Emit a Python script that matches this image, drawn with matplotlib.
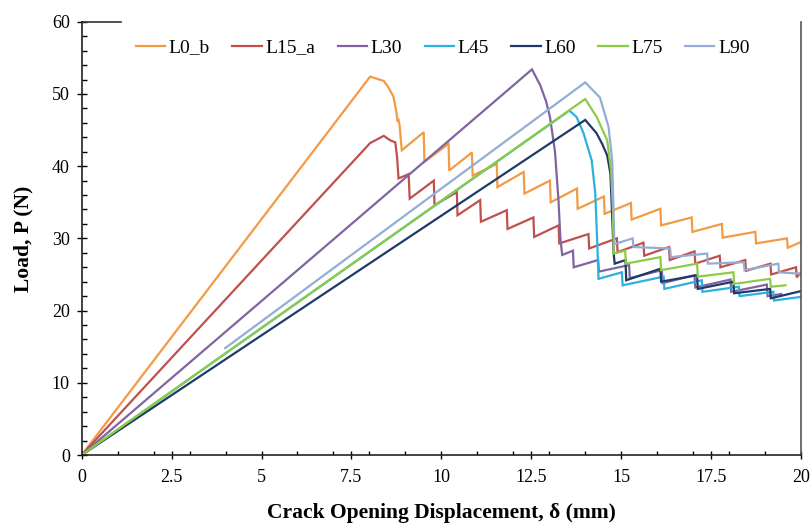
import matplotlib
matplotlib.use("Agg")
import matplotlib.pyplot as plt
from matplotlib.ticker import MultipleLocator

# ---- data ----
labels = ["L0_b", "L15_a", "L30", "L45", "L60", "L75", "L90"]
colors = ["#F39A45", "#C0504D", "#8064A2", "#2CB0E0", "#1F3A68", "#8CCB45", "#93ADD6"]

L0_b_x = [0, 8.02, 8.40, 8.53, 8.67, 8.75, 8.78, 8.81, 8.84, 8.90, 9.51, 9.53, 10.20, 10.22,
          10.85, 10.87, 11.54, 11.56, 12.29, 12.31, 13.02, 13.04, 13.77, 13.79, 14.52, 14.54,
          15.27, 15.29, 16.09, 16.11, 16.96, 16.98, 17.80, 17.82, 18.73, 18.75, 19.61, 19.63, 20.0]
L0_b_y = [0, 52.4, 51.8, 50.9, 49.6, 47.5, 46.3, 46.4, 45.6, 42.2, 44.7, 40.6, 43.1, 39.4,
          41.9, 38.7, 40.3, 37.1, 39.2, 36.2, 38.0, 35.0, 36.9, 34.1, 35.8, 33.4,
          34.9, 32.6, 34.1, 31.8, 32.9, 30.9, 32.0, 30.1, 30.9, 29.3, 30.0, 28.7, 29.5]

L15_a_x = [0, 8.02, 8.40, 8.57, 8.72, 8.77, 8.81, 9.09, 9.12, 9.79, 9.81, 10.43, 10.45, 11.08,
           11.10, 11.82, 11.84, 12.56, 12.58, 13.26, 13.28, 14.09, 14.11, 14.88, 14.90, 15.62,
           15.64, 16.33, 16.35, 17.04, 17.06, 17.74, 17.76, 18.45, 18.47, 19.15, 19.17, 19.86,
           19.88, 20.0]
L15_a_y = [0, 43.2, 44.2, 43.6, 43.3, 41.2, 38.3, 38.9, 35.5, 38.0, 34.6, 36.4, 33.2, 35.3,
           32.3, 33.9, 31.3, 32.9, 30.2, 31.8, 29.3, 30.6, 28.6, 30.0, 28.1, 29.4,
           27.6, 28.8, 27.0, 28.2, 26.5, 27.6, 26.0, 27.0, 25.5, 26.5, 25.0, 26.0,
           24.6, 25.3]

L30_x = [0, 12.52, 12.75, 12.91, 13.02, 13.16, 13.26, 13.31, 13.36, 13.66, 13.68, 14.36, 14.38,
         15.22, 15.24, 16.13, 16.15, 17.04, 17.06, 18.04, 18.06, 19.05, 19.07, 19.45]
L30_y = [0, 53.4, 51.2, 49.0, 46.8, 42.0, 35.0, 30.0, 27.7, 28.3, 26.0, 27.0, 25.4,
         26.3, 24.5, 25.6, 23.8, 24.9, 23.2, 24.3, 22.6, 23.6, 22.0, 22.3]

L45_x = [0, 13.56, 13.76, 13.95, 14.18, 14.28, 14.33, 14.37, 15.02, 15.04, 16.18, 16.20, 17.24,
         17.26, 18.27, 18.29, 19.23, 19.25, 20.0]
L45_y = [0, 47.7, 46.8, 44.6, 40.8, 36.2, 30.0, 24.4, 25.3, 23.5, 24.7, 23.0, 24.2,
         22.6, 23.3, 22.0, 22.6, 21.4, 21.9]

L60_x = [0, 14.0, 14.31, 14.47, 14.61, 14.70, 14.75, 14.79, 14.82, 15.12, 15.14, 16.09, 16.11,
         17.11, 17.13, 18.12, 18.14, 19.14, 19.16, 20.0]
L60_y = [0, 46.4, 44.6, 43.1, 41.5, 39.0, 33.0, 27.9, 26.5, 27.0, 24.2, 25.8, 24.0,
         24.9, 23.0, 24.0, 22.4, 23.0, 21.7, 22.7]

L75_x = [0, 14.0, 14.32, 14.61, 14.72, 14.77, 14.79, 15.11, 15.13, 16.09, 16.11, 17.11, 17.13,
         18.12, 18.14, 19.14, 19.16, 19.57]
L75_y = [0, 49.3, 46.8, 43.6, 39.4, 34.0, 27.9, 28.3, 26.5, 27.4, 25.6, 26.5, 24.7,
         25.3, 23.7, 24.4, 23.3, 23.5]

L90_x = [3.99, 14.0, 14.41, 14.65, 14.75, 14.79, 14.81, 15.32, 15.34, 16.36, 16.38, 17.39,
         17.41, 18.41, 18.43, 19.37, 19.39, 20.0]
L90_y = [14.8, 51.6, 49.5, 45.4, 40.8, 33.4, 29.2, 30.0, 28.8, 28.6, 27.4, 27.9,
         26.5, 26.7, 25.6, 26.5, 25.3, 25.1]

series_x = [L0_b_x, L15_a_x, L30_x, L45_x, L60_x, L75_x, L90_x]
series_y = [L0_b_y, L15_a_y, L30_y, L45_y, L60_y, L75_y, L90_y]

x_ticks = [0, 2.5, 5, 7.5, 10, 12.5, 15, 17.5, 20]
x_ticklabels = ["0", "2.5", "5", "7.5", "10", "12.5", "15", "17.5", "20"]
y_ticks = [0, 10, 20, 30, 40, 50, 60]

# ---- figure ----
plt.rcParams['font.family'] = ['Liberation Serif', 'DejaVu Serif']
fig = plt.figure(figsize=(8.11, 5.25), dpi=100)
ax = fig.add_axes([0.1007, 0.1333, 0.8870, 0.8253])

for xs, ys, lab, c in zip(series_x, series_y, labels, colors):
    ax.plot(xs, ys, color=c, lw=1.6, label=lab, solid_joinstyle='miter')

ax.set_xlim(0, 20)
ax.set_ylim(0, 60)
ax.set_xticks(x_ticks)
ax.set_xticklabels(x_ticklabels)
ax.set_yticks(y_ticks)
ax.xaxis.set_minor_locator(MultipleLocator(1))
ax.yaxis.set_minor_locator(MultipleLocator(2))
ax.tick_params(axis='x', which='major', direction='inout', length=6, width=1, labelsize=13, pad=7)
ax.tick_params(axis='x', which='minor', direction='in', length=3, width=1)
ax.tick_params(axis='y', which='major', direction='inout', length=7, width=1, labelsize=13, pad=5)
ax.tick_params(axis='y', which='minor', direction='in', length=3.5, width=1)

for s in ['left', 'bottom', 'right']:
    ax.spines[s].set_linewidth(1.2)
    ax.spines[s].set_color('#222222')
ax.spines['right'].set_color('#555555')
ax.spines['top'].set_visible(False)
ax.plot([0, 0.055], [1, 1], transform=ax.transAxes, color='#333333', lw=1.2, clip_on=False)

ax.set_xlabel("Crack Opening Displacement, δ (mm)", fontsize=15.5, fontweight='bold', labelpad=12)
ax.set_ylabel("Load, P (N)", fontsize=15.5, fontweight='bold', labelpad=13)

leg = ax.legend(loc='center', bbox_to_anchor=(0.502, 0.94), ncol=7, frameon=False,
                fontsize=14, handlelength=1.5, handletextpad=0.2, columnspacing=1.15,
                borderpad=0.2)

fig.savefig("out.png", dpi=100)
